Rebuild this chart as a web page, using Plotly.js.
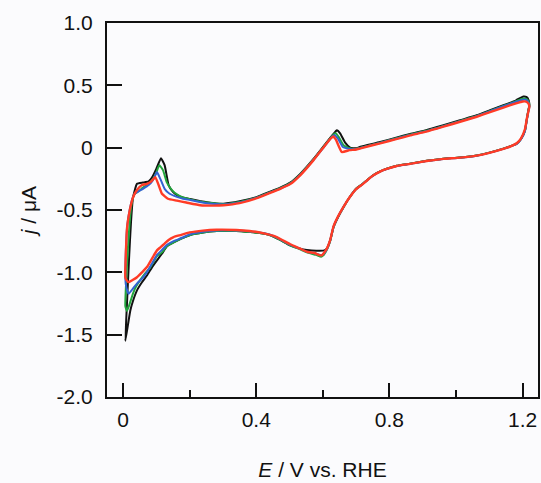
<!DOCTYPE html>
<html>
<head>
<meta charset="utf-8">
<script src="https://cdn.plot.ly/plotly-3.0.1.min.js"></script>
<style>html,body{margin:0;padding:0;background:#fbfbfd;}#chart{width:541px;height:483px;}</style>
</head>
<body>
<div id="chart"></div>
<script>
// Tick labels
const xTickVals = [0, 0.4, 0.8, 1.2];
const xTickText = ['0', '0.4', '0.8', '1.2'];
const yTickVals = [-2, -1.5, -1, -0.5, 0, 0.5, 1];
const yTickText = ['-2.0', '-1.5', '-1.0', '-0.5', '0', '0.5', '1.0'];

// Black curve
const blackE = [0.007,0.012,0.018,0.024,0.03,0.042,0.06,0.077,0.087,0.1,0.114,0.125,0.137,0.15,0.162,0.18,0.202,0.23,0.252,0.28,0.302,0.35,0.402,0.44,0.472,0.502,0.532,0.572,0.612,0.632,0.642,0.652,0.667,0.682,0.70,0.713,0.772,0.82,0.862,0.91,0.962,1.012,1.062,1.102,1.142,1.18,1.202,1.212,1.218,1.22,1.217,1.212,1.207,1.195,1.182,1.162,1.142,1.1,1.062,1.012,0.962,0.912,0.862,0.822,0.792,0.772,0.752,0.735,0.72,0.70,0.68,0.662,0.645,0.632,0.622,0.612,0.605,0.58,0.552,0.532,0.502,0.472,0.44,0.41,0.382,0.34,0.282,0.24,0.202,0.175,0.152,0.132,0.117,0.102,0.087,0.072,0.057,0.042,0.03,0.022,0.015,0.007];
const blackJ = [-1.55,-1.25,-0.9,-0.6,-0.4,-0.29,-0.28,-0.27,-0.24,-0.17,-0.085,-0.14,-0.3,-0.355,-0.38,-0.4,-0.412,-0.428,-0.437,-0.447,-0.449,-0.43,-0.395,-0.355,-0.32,-0.28,-0.21,-0.09,0.045,0.11,0.139,0.115,0.04,0.0,-0.005,0.008,0.045,0.08,0.11,0.14,0.18,0.22,0.26,0.3,0.34,0.38,0.41,0.405,0.38,0.34,0.3,0.22,0.139,0.07,0.032,0.01,-0.008,-0.04,-0.062,-0.078,-0.088,-0.105,-0.128,-0.145,-0.169,-0.19,-0.22,-0.255,-0.29,-0.33,-0.40,-0.477,-0.56,-0.637,-0.744,-0.81,-0.824,-0.826,-0.82,-0.81,-0.784,-0.74,-0.70,-0.685,-0.677,-0.668,-0.669,-0.68,-0.70,-0.73,-0.76,-0.79,-0.85,-0.904,-0.96,-1.025,-1.08,-1.145,-1.23,-1.306,-1.42,-1.55];

// Green curve
const greenE = [0.007,0.01,0.015,0.02,0.026,0.035,0.047,0.06,0.077,0.09,0.1,0.109,0.12,0.132,0.147,0.162,0.18,0.202,0.23,0.252,0.28,0.302,0.35,0.402,0.44,0.472,0.502,0.532,0.572,0.612,0.63,0.638,0.648,0.662,0.68,0.70,0.713,0.772,0.82,0.862,0.91,0.962,1.012,1.062,1.102,1.142,1.18,1.202,1.212,1.218,1.22,1.217,1.212,1.207,1.195,1.182,1.162,1.142,1.1,1.062,1.012,0.962,0.912,0.862,0.822,0.792,0.772,0.752,0.735,0.72,0.70,0.68,0.662,0.645,0.632,0.622,0.612,0.603,0.595,0.58,0.552,0.532,0.502,0.472,0.44,0.41,0.382,0.34,0.282,0.24,0.202,0.175,0.152,0.132,0.117,0.102,0.082,0.066,0.052,0.04,0.03,0.018,0.012,0.007];
const greenJ = [-1.27,-1.05,-0.8,-0.6,-0.45,-0.37,-0.35,-0.32,-0.29,-0.25,-0.2,-0.14,-0.18,-0.28,-0.34,-0.375,-0.4,-0.415,-0.432,-0.44,-0.448,-0.452,-0.435,-0.4,-0.36,-0.325,-0.285,-0.215,-0.095,0.04,0.1,0.115,0.085,0.02,-0.005,-0.01,0.0,0.04,0.075,0.105,0.135,0.175,0.215,0.255,0.295,0.335,0.372,0.395,0.39,0.37,0.33,0.3,0.22,0.139,0.07,0.032,0.01,-0.008,-0.04,-0.062,-0.078,-0.088,-0.105,-0.128,-0.145,-0.169,-0.19,-0.22,-0.255,-0.29,-0.33,-0.40,-0.477,-0.56,-0.64,-0.75,-0.82,-0.86,-0.875,-0.86,-0.84,-0.815,-0.785,-0.74,-0.70,-0.685,-0.677,-0.668,-0.669,-0.68,-0.70,-0.73,-0.76,-0.79,-0.84,-0.87,-0.96,-1.01,-1.06,-1.11,-1.17,-1.27,-1.31,-1.27];

// Blue curve
const blueE = [0.007,0.009,0.013,0.02,0.027,0.035,0.047,0.06,0.077,0.09,0.102,0.112,0.125,0.14,0.162,0.18,0.202,0.23,0.252,0.28,0.302,0.35,0.402,0.44,0.472,0.502,0.532,0.572,0.612,0.628,0.636,0.646,0.66,0.68,0.70,0.713,0.772,0.82,0.862,0.91,0.962,1.012,1.062,1.102,1.142,1.18,1.202,1.212,1.218,1.22,1.217,1.212,1.207,1.195,1.182,1.162,1.142,1.1,1.062,1.012,0.962,0.912,0.862,0.822,0.792,0.772,0.752,0.735,0.72,0.70,0.68,0.662,0.645,0.632,0.622,0.612,0.603,0.595,0.58,0.552,0.532,0.502,0.472,0.44,0.41,0.382,0.34,0.282,0.24,0.202,0.175,0.152,0.132,0.117,0.102,0.087,0.072,0.057,0.042,0.03,0.017,0.01,0.007];
const blueJ = [-1.05,-0.8,-0.62,-0.5,-0.42,-0.37,-0.35,-0.33,-0.3,-0.26,-0.196,-0.25,-0.33,-0.37,-0.395,-0.41,-0.42,-0.435,-0.445,-0.452,-0.455,-0.44,-0.402,-0.362,-0.328,-0.288,-0.218,-0.098,0.035,0.09,0.1,0.07,0.005,-0.01,-0.012,-0.002,0.038,0.072,0.102,0.132,0.172,0.212,0.252,0.292,0.332,0.368,0.385,0.382,0.36,0.325,0.29,0.215,0.135,0.068,0.03,0.008,-0.01,-0.042,-0.064,-0.08,-0.09,-0.107,-0.13,-0.147,-0.171,-0.192,-0.222,-0.257,-0.292,-0.332,-0.40,-0.475,-0.558,-0.635,-0.745,-0.815,-0.85,-0.862,-0.85,-0.835,-0.81,-0.78,-0.735,-0.697,-0.68,-0.672,-0.664,-0.664,-0.675,-0.695,-0.725,-0.75,-0.78,-0.82,-0.86,-0.93,-0.998,-1.05,-1.09,-1.13,-1.172,-1.12,-1.05];

// Red curve
const redE = [0.007,0.009,0.012,0.017,0.022,0.03,0.042,0.057,0.072,0.085,0.097,0.107,0.117,0.135,0.162,0.19,0.232,0.272,0.302,0.35,0.402,0.44,0.472,0.502,0.532,0.572,0.61,0.624,0.632,0.64,0.657,0.68,0.70,0.713,0.772,0.82,0.862,0.91,0.962,1.012,1.062,1.102,1.142,1.18,1.2,1.21,1.217,1.22,1.218,1.213,1.207,1.195,1.182,1.162,1.142,1.1,1.062,1.012,0.962,0.912,0.862,0.822,0.792,0.772,0.752,0.735,0.72,0.70,0.68,0.662,0.645,0.632,0.622,0.612,0.603,0.597,0.588,0.575,0.552,0.532,0.502,0.46,0.42,0.38,0.34,0.28,0.24,0.2,0.175,0.152,0.137,0.125,0.112,0.102,0.087,0.072,0.057,0.042,0.03,0.017,0.01,0.007];
const redJ = [-1.04,-0.82,-0.65,-0.55,-0.48,-0.4,-0.34,-0.3,-0.29,-0.27,-0.236,-0.3,-0.37,-0.41,-0.425,-0.44,-0.462,-0.465,-0.462,-0.445,-0.405,-0.365,-0.33,-0.292,-0.222,-0.1,0.03,0.075,0.09,0.06,-0.035,-0.02,-0.015,-0.005,0.035,0.068,0.098,0.128,0.168,0.208,0.248,0.285,0.322,0.355,0.37,0.37,0.355,0.33,0.3,0.24,0.15,0.075,0.035,0.008,-0.01,-0.042,-0.064,-0.08,-0.09,-0.107,-0.13,-0.147,-0.171,-0.192,-0.222,-0.257,-0.292,-0.332,-0.40,-0.475,-0.555,-0.632,-0.742,-0.81,-0.845,-0.864,-0.86,-0.845,-0.835,-0.81,-0.775,-0.715,-0.685,-0.668,-0.66,-0.658,-0.665,-0.68,-0.7,-0.717,-0.74,-0.77,-0.8,-0.824,-0.89,-0.958,-1.0,-1.039,-1.06,-1.079,-1.06,-1.04];

const FONT = 'Liberation Sans, Arial, sans-serif';
function tr(x, y, color, w) {
  return {x: x, y: y, type: 'scatter', mode: 'lines', line: {color: color, width: w, shape: 'spline', smoothing: 0.4}, hoverinfo: 'skip', showlegend: false};
}
const data = [
  tr(blackE, blackJ, '#111111', 2),
  tr(greenE, greenJ, '#22a53c', 2),
  tr(blueE, blueJ, '#3263d2', 2),
  tr(redE, redJ, '#ff3b26', 2.4)
];
const layout = {
  width: 541, height: 483,
  margin: {l: 107, r: 3, t: 23, b: 86},
  paper_bgcolor: '#fbfbfd', plot_bgcolor: '#fbfbfd',
  font: {family: FONT, size: 21, color: '#111'},
  showlegend: false,
  xaxis: {
    range: [-0.048, 1.246], showgrid: false, zeroline: false,
    showline: true, linecolor: '#111', linewidth: 2, mirror: true,
    ticks: 'inside', ticklen: 14, tickwidth: 2, tickcolor: '#111',
    tickvals: xTickVals, ticktext: xTickText, ticklabelstandoff: 3,
    minor: {tickvals: [0.2, 0.6, 1.0], ticks: 'inside', ticklen: 7, tickwidth: 2, tickcolor: '#111', showgrid: false},
    title: {text: '<i>E</i> / V vs. RHE', font: {size: 21}, standoff: 32}
  },
  yaxis: {
    range: [-2, 1], showgrid: false, zeroline: false,
    showline: true, linecolor: '#111', linewidth: 2, mirror: true,
    ticks: 'inside', ticklen: 15, tickwidth: 2, tickcolor: '#111',
    tickvals: yTickVals, ticktext: yTickText, ticklabelstandoff: 8,
    title: {text: '<i>j</i> / μA', font: {size: 21}, standoff: 14}
  }
};
Plotly.newPlot('chart', data, layout, {displayModeBar: false, staticPlot: true});
</script>
</body>
</html>
